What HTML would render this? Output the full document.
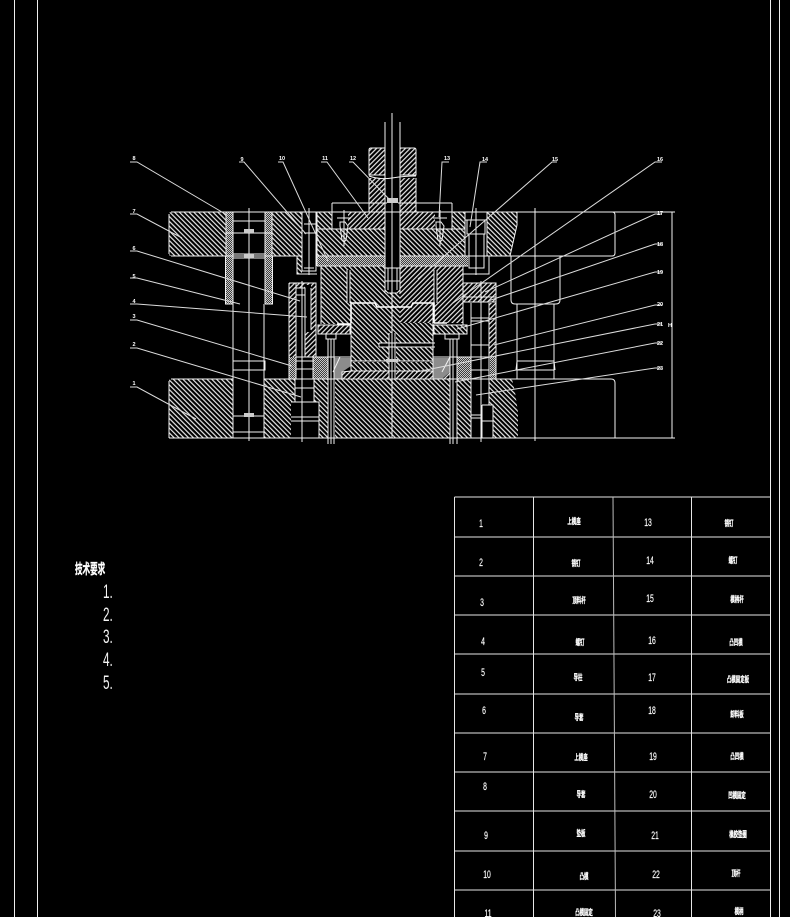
<!DOCTYPE html>
<html><head><meta charset="utf-8">
<style>
html,body{margin:0;padding:0;background:#000;width:790px;height:917px;overflow:hidden}
svg{display:block}
.c{font-family:"Liberation Sans","Noto Sans CJK SC",sans-serif;fill:#fff;stroke:#fff;stroke-width:.35px;font-size:8px;font-weight:700;text-anchor:middle}
.d{font-family:"Liberation Sans",sans-serif;fill:#fff;stroke:#fff;stroke-width:.2px;font-size:11px;text-anchor:middle}
.l{font-family:"Liberation Sans",sans-serif;fill:#fff;font-size:5.5px;font-weight:700;text-anchor:middle}
</style></head><body>
<svg width="790" height="917" viewBox="0 0 790 917" xmlns="http://www.w3.org/2000/svg">
<defs>
<pattern id="b" width="3.4" height="3.4" patternUnits="userSpaceOnUse" patternTransform="rotate(-45)"><rect width="3.4" height="3.4" fill="#000"/><rect width="1.2" height="3.4" fill="#e8e8e8"/></pattern>
<pattern id="f" width="3.4" height="3.4" patternUnits="userSpaceOnUse" patternTransform="rotate(45)"><rect width="3.4" height="3.4" fill="#000"/><rect width="1.2" height="3.4" fill="#e8e8e8"/></pattern>
<pattern id="x" width="2" height="2" patternUnits="userSpaceOnUse"><rect width="2" height="2" fill="#3c3c3c"/><rect width="1" height="1" fill="#c8c8c8"/><rect x="1" y="1" width="1" height="1" fill="#c8c8c8"/></pattern>
</defs>
<rect width="790" height="917" fill="#000"/>
<g stroke="#eee" stroke-width="1" fill="none">
<path d="M14.5 0V917M37.5 0V917M770.5 0V917M779.5 0V917"/>
</g>

<!-- back-slash hatch -->
<g fill="url(#b)" stroke="none">
<path d="M171 212H226V256H171Q169 256 169 254V214Q169 212 171 212Z"/>
<rect x="272" y="212" width="30" height="44"/>
<rect x="297" y="256" width="5" height="18"/>
<path d="M317 212H332V229H385V256H317Z"/>
<path d="M400 229H452V212H465V256H400Z"/>
<path d="M487 212H517L517 225L510 256H487Z"/>
<rect x="321" y="266" width="64" height="58"/>
<rect x="385" y="293" width="15" height="10"/>
<path d="M351 303H433V361H351Z"/>
<rect x="351" y="362" width="82" height="9"/>
<path d="M171 379H233V438H169V381Q169 379 171 379Z"/>
<path d="M264 379H295V402H291V438H264Z"/>
<path d="M314 379H328V438H319V402H314Z"/>
<rect x="335" y="379" width="115" height="59"/>
<rect x="457" y="379" width="14" height="59"/>
<path d="M489 379H512L515 392L518 412V438H493V405H489Z"/>
<rect x="434" y="325" width="33" height="9"/>
</g>
<!-- forward hatch -->
<g fill="url(#f)" stroke="none">
<path d="M371 148H385V175H369V150Q369 148 371 148Z"/>
<path d="M369 178H385V212H369Z"/>
<path d="M400 148H414Q416 148 416 150V175H400Z"/>
<path d="M400 178H416V212H400Z"/>
<rect x="348" y="212" width="37" height="17"/>
<rect x="400" y="212" width="35" height="17"/>
<rect x="400" y="266" width="63" height="57"/>
<rect x="318" y="325" width="32" height="9"/>
<rect x="289" y="283" width="7" height="74"/>
<rect x="305" y="332" width="11" height="25"/>
<rect x="311" y="285" width="5" height="47"/>
<rect x="296" y="283" width="20" height="5"/>
<rect x="463" y="283" width="33" height="14"/>
<rect x="463" y="297" width="33" height="5"/>
<rect x="489" y="303" width="7" height="54"/>
<rect x="342" y="371" width="115" height="8"/>
</g>
<!-- cross hatch -->
<g fill="url(#x)" stroke="none">
<rect x="226" y="212" width="7" height="44"/>
<rect x="265" y="212" width="7" height="44"/>
<rect x="225" y="256" width="8" height="48"/>
<rect x="265" y="256" width="8" height="48"/>
<rect x="317" y="256" width="68" height="10"/>
<rect x="400" y="256" width="68" height="10"/>
<rect x="289" y="357" width="7" height="22"/>
<rect x="313" y="357" width="22" height="22"/>
<rect x="450" y="357" width="21" height="22"/>
<rect x="490" y="357" width="6" height="22"/>
</g>
<g fill="#8c8c8c" stroke="none">
<path d="M333 358H351V366L342 372V379H333Z"/>
<path d="M433 358H450V372L442 379H433Z"/>
</g>
<!-- black voids -->
<g fill="#000" stroke="none">
<rect x="385" y="178" width="15" height="115"/>
<rect x="347" y="270" width="3" height="33"/>
<rect x="434" y="270" width="3" height="33"/>
<rect x="296" y="288" width="9" height="69"/>
<rect x="305" y="285" width="6" height="47"/>
<rect x="318" y="334" width="15" height="23"/>
<rect x="333" y="334" width="18" height="23"/>
<rect x="433" y="334" width="38" height="23"/>
<rect x="463" y="303" width="8" height="22"/>
<rect x="328" y="339" width="6" height="105"/>
<rect x="450" y="339" width="7" height="105"/>
<rect x="389" y="333" width="7" height="46"/>
<rect x="379" y="343" width="56" height="4"/>
</g>

<!-- outlines -->
<g stroke="#f2f2f2" stroke-width="1" fill="none">
<path d="M171 212H675M171 256H302M169 214V254M169 381V438M171 379H233M264 379H611Q615 379 615 383V438M169 438H675M672 212V438"/>
<path d="M612 212Q615 212 615 215V253Q615 256 612 256H465M511 256V300Q511 304 515 304H556Q560 304 560 300V256"/>
<path d="M517 304V379M554 304V379M517 361H554V370H517M517 361L516 370M554 361L555 370"/>
<path d="M535 208V441M249 208V441"/>
<path d="M233 212V438M265 212V304M264 304V438M226 212V256M272 212V256M225.500 256V304H233M272.500 256V304H265"/>
<path d="M233 221H265M233 233H272M226 233H233M233 254H265M233 258H265M233 361H265V370H233M233 416H264M233 432H264"/>
<path d="M302 212V271H316V212M304 224H316M304 233H316M304 268H314M309 208V275"/>
<path d="M297 256V274H317"/>
<path d="M317 212V266M317 229H385M317 256H385M317 266H385M332 203V229M452 203V229M332 203H387M398 203H452"/>
<path d="M369 150Q369 148 371 148H385M369 150V175H385M369 178V212M416 150Q416 148 414 148H400M416 150V175H400M416 178V212"/>
<path d="M385 122V293M400 122V293M392 113V300M388 268V290M397 268V290M385 268H400M385 281H400M385 290L388 293H397L400 290"/>
<path d="M369 176Q380 180 392 178Q404 176 416 176"/>
<path d="M400 229H465M400 256H468M400 266H468M465 212V256M487 212V256L510 256M487 212H517M517 212V225L510 256"/>
<path d="M465 220H487M467 220V234H485V220M469 234V268H484V234M476 208V275M469 256H484M469 268L484 268M484 256H489V274H463"/>
<path d="M340 222L345 222L348 226L346 240L344 242L342 240L340 226ZM337 218H351M344 210V246"/>
<path d="M436 222L441 222L444 226L442 240L440 242L438 240L436 226ZM433 218H447M440 210V246"/>
<path d="M321 266V324M463 266V324M347 270V303M350 270V303M434 270V303M437 270V303"/>
<path d="M289 283H316V357M289 283V379M296 283V379M296 288H305V332M305 288V357M296 357H314M296 361H314M296 369H314M302 281V442M296 295H305M311 288V330"/>
<path d="M295 379V402M314 379V402M291 402H319V438H291M291 421H319M295 388H314M291 417H319"/>
<path d="M318 325H350V334H318ZM326 334V339H336V334M328 339V444M331 339V444M334 339V444"/>
<path d="M313 357H351M313 379V357M340 357L333 372M351 357V371L342 372V379"/>
<path d="M351 303V361M433 303V361M351 361H433M351 371H433M289 379H496"/>
<path d="M392 300V438M389 333V379M395 333V379M379 343H435M379 347H435M379 343V347"/>
<path d="M463 283H496V379M463 297H496M463 302H496M463 283V325M434 325H467V334H434ZM445 334V339H459V334"/>
<path d="M450 339V444M453 339V444M457 339V444M471 303V438M489 303V405M481 281V442"/>
<path d="M471 318H489M471 321H489M471 345H489M471 357H489M471 370H489M471 415H482M482 405H493V438M482 405V438M482 421H493M471 418H482"/>
<path d="M433 357H471M433 379V357M442 372L450 357M457 357V379"/>
</g>
<!-- heavy profile lines -->
<g stroke="#fff" stroke-width="1.600" fill="none">
<path d="M351 323V303H375L377 307H411L413 303H434V323"/>
<path d="M337 324H351M434 323H447"/>
</g>
<rect x="387" y="198" width="11" height="5" fill="#ccc"/>
<rect x="244" y="229" width="10" height="4" fill="#ccc"/>
<rect x="244" y="254" width="10" height="4" fill="#ccc"/>
<rect x="244" y="413" width="10" height="4" fill="#ccc"/>
<rect x="386" y="359" width="12" height="3" fill="#ccc"/>

<!-- leaders -->
<g stroke="#dcdcdc" stroke-width="1" fill="none">
<path d="M130 162H137L227 215"/>
<path d="M130 214H137L182 238"/>
<path d="M130 251H137L300 301"/>
<path d="M130 278H137L240 304"/>
<path d="M130 304H137L307 317"/>
<path d="M130 320H137L292 366"/>
<path d="M130 348H137L301 397"/>
<path d="M130 387H137L196 419"/>
<path d="M239 162H244L306 234"/>
<path d="M278 162H283L328 261"/>
<path d="M321 162H327L368 218"/>
<path d="M349 162H353L390 200"/>
<path d="M449 162H442L439 217"/>
<path d="M487 162H480L470 227"/>
<path d="M557 162H552L418 279"/>
<path d="M662 162H655L453 303"/>
<path d="M662 214H655L485 292"/>
<path d="M662 244H655L488 301"/>
<path d="M662 272H655L457 329"/>
<path d="M662 305H655L494 345"/>
<path d="M662 324H655L416 372"/>
<path d="M662 343H655L455 382"/>
<path d="M662 368H655L476 395"/>
</g>
<g>
<text class="l" x="134" y="160">8</text><text class="l" x="134" y="213">7</text><text class="l" x="134" y="250">6</text><text class="l" x="134" y="278">5</text>
<text class="l" x="134" y="303">4</text><text class="l" x="134" y="318">3</text><text class="l" x="134" y="346">2</text><text class="l" x="134" y="385">1</text>
<text class="l" x="242" y="161">9</text><text class="l" x="282" y="160">10</text><text class="l" x="325" y="160">11</text><text class="l" x="353" y="160">12</text>
<text class="l" x="447" y="160">13</text><text class="l" x="485" y="161">14</text><text class="l" x="555" y="161">15</text><text class="l" x="660" y="161">16</text>
<text class="l" x="660" y="215">17</text><text class="l" x="660" y="246">18</text><text class="l" x="660" y="274">19</text><text class="l" x="660" y="306">20</text>
<text class="l" x="660" y="326">21</text><text class="l" x="660" y="345">22</text><text class="l" x="660" y="370">23</text>
<text class="l" x="670" y="327">H</text>
</g>

<!-- table -->
<g stroke="#e6e6e6" stroke-width="1" fill="none">
<path d="M454.500 497H770.500M454.500 537H770.500M454.500 576H770.500M454.500 615H770.500M454.500 654H770.500M454.500 694H770.500M454.500 733H770.500M454.500 772H770.500M454.500 811H770.500M454.500 851H770.500M454.500 890H770.500"/>
<path d="M454.500 497V917M533.500 497V917M691.500 497V917"/>
<path d="M613 497L615.500 917" stroke="#bbb"/>
</g>
<g>
<text class="d" transform="translate(481,527) scale(.62,1)">1</text>
<text class="d" transform="translate(481,566) scale(.62,1)">2</text>
<text class="d" transform="translate(482,606) scale(.62,1)">3</text>
<text class="d" transform="translate(483,645) scale(.62,1)">4</text>
<text class="d" transform="translate(483,676) scale(.62,1)">5</text>
<text class="d" transform="translate(484,714) scale(.62,1)">6</text>
<text class="d" transform="translate(485,760) scale(.62,1)">7</text>
<text class="d" transform="translate(485,790) scale(.62,1)">8</text>
<text class="d" transform="translate(486,839) scale(.62,1)">9</text>
<text class="d" transform="translate(487,878) scale(.62,1)">10</text>
<text class="d" transform="translate(488,917) scale(.62,1)">11</text>
<text class="d" transform="translate(648,526) scale(.62,1)">13</text>
<text class="d" transform="translate(650,564) scale(.62,1)">14</text>
<text class="d" transform="translate(650,602) scale(.62,1)">15</text>
<text class="d" transform="translate(652,644) scale(.62,1)">16</text>
<text class="d" transform="translate(652,681) scale(.62,1)">17</text>
<text class="d" transform="translate(652,714) scale(.62,1)">18</text>
<text class="d" transform="translate(653,760) scale(.62,1)">19</text>
<text class="d" transform="translate(653,798) scale(.62,1)">20</text>
<text class="d" transform="translate(655,839) scale(.62,1)">21</text>
<text class="d" transform="translate(656,878) scale(.62,1)">22</text>
<text class="d" transform="translate(657,917) scale(.62,1)">23</text>

<text class="c" transform="translate(574,524) scale(.55,1)">上模座</text>
<text class="c" transform="translate(576,566) scale(.55,1)">销钉</text>
<text class="c" transform="translate(579,603) scale(.55,1)">顶料杆</text>
<text class="c" transform="translate(580,645) scale(.55,1)">螺钉</text>
<text class="c" transform="translate(578,680) scale(.55,1)">导柱</text>
<text class="c" transform="translate(579,720) scale(.55,1)">导套</text>
<text class="c" transform="translate(581,760) scale(.55,1)">上模座</text>
<text class="c" transform="translate(581,797) scale(.55,1)">导套</text>
<text class="c" transform="translate(581,836) scale(.55,1)">垫板</text>
<text class="c" transform="translate(584,879) scale(.55,1)">凸模</text>
<text class="c" transform="translate(584,915) scale(.55,1)">凸模固定</text>
<text class="c" transform="translate(729,526) scale(.55,1)">销钉</text>
<text class="c" transform="translate(733,563) scale(.55,1)">螺钉</text>
<text class="c" transform="translate(737,602) scale(.55,1)">模柄杆</text>
<text class="c" transform="translate(736,645) scale(.55,1)">凸凹模</text>
<text class="c" transform="translate(738,682) scale(.55,1)">凸模固定板</text>
<text class="c" transform="translate(737,717) scale(.55,1)">卸料板</text>
<text class="c" transform="translate(737,759) scale(.55,1)">凸凹模</text>
<text class="c" transform="translate(737,798) scale(.55,1)">凹模固定</text>
<text class="c" transform="translate(738,837) scale(.55,1)">橡胶垫圈</text>
<text class="c" transform="translate(736,876) scale(.55,1)">顶杆</text>
<text class="c" transform="translate(739,914) scale(.55,1)">模柄</text>
</g>

<!-- technical notes -->
<text class="c" style="font-size:14px;text-anchor:start" transform="translate(75,574) scale(.54,1)">技术要求</text>
<g style="font-family:'Liberation Sans',sans-serif;font-size:19px;fill:#f4f4f4">
<text transform="translate(103,598) scale(.62,1)">1.</text>
<text transform="translate(103,621) scale(.62,1)">2.</text>
<text transform="translate(103,643) scale(.62,1)">3.</text>
<text transform="translate(103,666) scale(.62,1)">4.</text>
<text transform="translate(103,689) scale(.62,1)">5.</text>
</g>
</svg>
</body></html>
